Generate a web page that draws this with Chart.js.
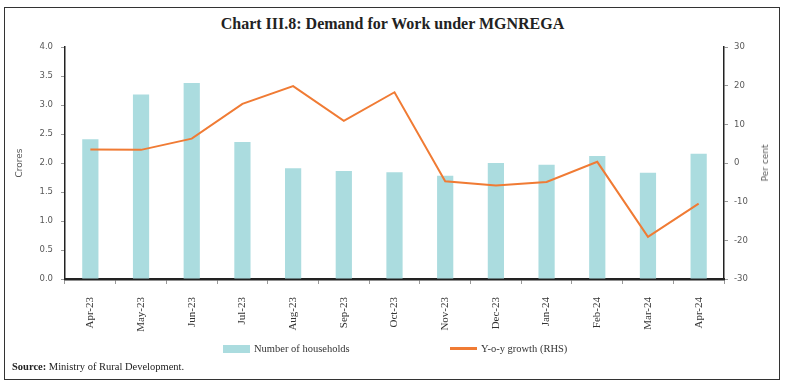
<!DOCTYPE html>
<html lang="en">
<head>
<meta charset="UTF-8">
<title>Chart III.8: Demand for Work under MGNREGA</title>
<style>
    html, body {
        margin: 0;
        padding: 0;
        background: #fff;
    }
    #wrap {
        position: relative;
        width: 785px;
        height: 387px;
        overflow: hidden;
    }
    #frame {
        position: absolute;
        left: 4px;
        top: 7px;
        width: 774px;
        height: 371px;
        border: 1px solid #333;
    }
    #title {
        position: absolute;
        left: 0;
        top: 15px;
        width: 785px;
        text-align: center;
        font-family: "Liberation Serif", serif;
        font-weight: bold;
        font-size: 16px;
        color: #222;
    }
    #chart {
        position: absolute;
        left: 0;
        top: 0;
    }
    #rtitle {
        position: absolute;
        left: 765px;
        top: 163px;
        transform: translate(-50%, -50%) rotate(-90deg);
        font-family: "DejaVu Sans", sans-serif;
        font-size: 9px;
        color: #595959;
        white-space: nowrap;
    }
    .legend {
        position: absolute;
        top: 343px;
        font-family: "Liberation Serif", serif;
        font-size: 10.5px;
        color: #333;
        display: flex;
        align-items: center;
    }
    .legend .sw {
        display: inline-block;
        margin-right: 4px;
    }
    #source {
        position: absolute;
        left: 12px;
        top: 361px;
        font-family: "Liberation Serif", serif;
        font-size: 10.5px;
        color: #222;
    }
</style>
<script src="https://cdn.jsdelivr.net/npm/chart.js"></script>
</head>
<body>
<div id="wrap">
    <div id="frame"></div>
    <div id="title">Chart III.8: Demand for Work under MGNREGA</div>
    <canvas id="chart" width="785" height="387"></canvas>
    <div id="rtitle">Per cent</div>
    <div class="legend" style="left:223px;"><span class="sw" style="width:27px;height:8px;background:#abdcdf;"></span>Number of households</div>
    <div class="legend" style="left:450px;"><span class="sw" style="width:27px;height:2.5px;background:#f07b34;"></span>Y-o-y growth (RHS)</div>
    <div id="source"><b>Source:</b> Ministry of Rural Development.</div>
</div>

<script>
    // data
    var months = ["Apr-23", "May-23", "Jun-23", "Jul-23", "Aug-23", "Sep-23", "Oct-23",
                  "Nov-23", "Dec-23", "Jan-24", "Feb-24", "Mar-24", "Apr-24"];
    var households = [2.41, 3.18, 3.38, 2.36, 1.91, 1.86, 1.84, 1.78, 2.00, 1.97, 2.12, 1.83, 2.16];
    var yoyGrowth = [3.5, 3.4, 6.3, 15.3, 19.9, 10.9, 18.3, -4.7, -5.8, -4.9, 0.3, -19.1, -10.5];

    var tickFont = { family: "DejaVu Sans", size: 8.5 };
    var tickColor = "#595959";

    var ctx = document.getElementById("chart").getContext("2d");
    new Chart(ctx, {
        type: 'bar',
        data: {
            labels: months,
            datasets: [{
                type: 'line',
                label: 'Y-o-y growth (RHS)',
                data: yoyGrowth,
                yAxisID: 'y1',
                borderColor: '#f07b34',
                borderWidth: 2,
                pointRadius: 0,
                tension: 0,
                fill: false
            }, {
                label: 'Number of households',
                data: households,
                yAxisID: 'y',
                backgroundColor: '#abdcdf',
                categoryPercentage: 1,
                barPercentage: 0.32
            }]
        },
        options: {
            responsive: false,
            animation: false,
            layout: {
                padding: { top: 47, bottom: 48, left: 0, right: 0 }
            },
            plugins: {
                legend: { display: false },
                tooltip: { enabled: false }
            },
            scales: {
                x: {
                    grid: {
                        offset: true,
                        drawOnChartArea: false,
                        tickLength: 5,
                        tickColor: '#999'
                    },
                    border: { color: '#222', width: 2.5 },
                    ticks: {
                        minRotation: 90,
                        maxRotation: 90,
                        padding: 13,
                        color: '#333',
                        font: { family: "Liberation Serif", size: 11 }
                    },
                    afterFit: function (s) { s.height = 60; }
                },
                y: {
                    position: 'left',
                    min: 0,
                    max: 4,
                    grid: {
                        drawOnChartArea: false,
                        tickLength: 4,
                        tickColor: '#999'
                    },
                    border: { color: '#222', width: 1.5 },
                    ticks: {
                        stepSize: 0.5,
                        padding: 8,
                        color: tickColor,
                        font: tickFont,
                        callback: function (v) { return v.toFixed(1); }
                    },
                    title: {
                        display: true,
                        text: 'Crores',
                        color: tickColor,
                        font: { family: "DejaVu Sans", size: 9 },
                        padding: { top: 14, bottom: 0 }
                    },
                    afterFit: function (s) { s.width = 65; }
                },
                y1: {
                    position: 'right',
                    min: -30,
                    max: 30,
                    grid: {
                        drawOnChartArea: false,
                        tickLength: 4,
                        tickColor: '#999'
                    },
                    border: { color: '#222', width: 1.5 },
                    ticks: {
                        stepSize: 10,
                        padding: 6,
                        color: tickColor,
                        font: tickFont
                    },
                    afterFit: function (s) { s.width = 61; }
                }
            }
        }
    });
</script>
</body>
</html>
